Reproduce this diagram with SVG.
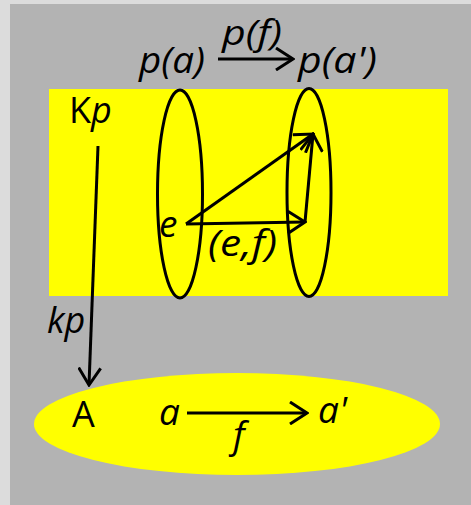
<svg xmlns="http://www.w3.org/2000/svg" width="471" height="505" viewBox="0 0 471 505">
<defs>
<marker id="ah" viewBox="0 0 20 24" refX="18" refY="12" markerWidth="20" markerHeight="24" markerUnits="userSpaceOnUse" orient="auto">
<polyline points="1,1 18,12 1,23" fill="none" stroke="#000" stroke-width="3"/>
</marker>
</defs>
<style>
.t{font-family:"Open Sans","Noto Sans",sans-serif;fill:#000}
.i{font-style:italic}
.ln{stroke:#000;stroke-width:3;fill:none}
</style>
<rect width="471" height="505" fill="#dcdcdc"/>
<rect x="10" y="4" width="461" height="501" fill="#b3b3b3"/>
<g id="fibers">
<rect x="49" y="89" width="399" height="207" fill="#ffff00"/>
<ellipse cx="180" cy="194" rx="22.5" ry="104" class="ln"/>
<ellipse cx="309" cy="192.5" rx="22" ry="104" class="ln"/>
</g>
<g id="base">
<ellipse cx="237" cy="424" rx="203" ry="51" fill="#ffff00"/>
</g>
<g id="connectors">
<line x1="218" y1="59" x2="293" y2="59" class="ln" marker-end="url(#ah)"/>
<line x1="186" y1="224" x2="313" y2="134" class="ln" marker-end="url(#ah)"/>
<line x1="186" y1="224" x2="305" y2="222" class="ln" marker-end="url(#ah)"/>
<line x1="305" y1="222" x2="313" y2="134" class="ln" marker-end="url(#ah)"/>
<line x1="98" y1="146" x2="89" y2="385" class="ln" marker-end="url(#ah)"/>
<line x1="187" y1="413" x2="307" y2="413" class="ln" marker-end="url(#ah)"/>
</g>
<g id="labels" class="t">
<text x="139" y="73" font-size="37" class="i" textLength="66" lengthAdjust="spacingAndGlyphs">p(a)</text>
<text x="222" y="45" font-size="34" class="i" textLength="60" lengthAdjust="spacingAndGlyphs">p(f)</text>
<text x="298" y="73" font-size="37" class="i" textLength="79" lengthAdjust="spacingAndGlyphs">p(a')</text>
<text x="69" y="123" font-size="36">K<tspan class="i">p</tspan></text>
<text x="159" y="237" font-size="37" class="i">e</text>
<text x="208" y="256" font-size="37" class="i" textLength="69" lengthAdjust="spacingAndGlyphs">(e,f)</text>
<text x="47" y="333" font-size="36" class="i">kp</text>
<text x="72" y="427" font-size="36">A</text>
<text x="159" y="425" font-size="37" class="i">a</text>
<text x="318" y="423" font-size="37" class="i">a'</text>
<text x="233" y="448" font-size="37" class="i">f</text>
</g>
</svg>
